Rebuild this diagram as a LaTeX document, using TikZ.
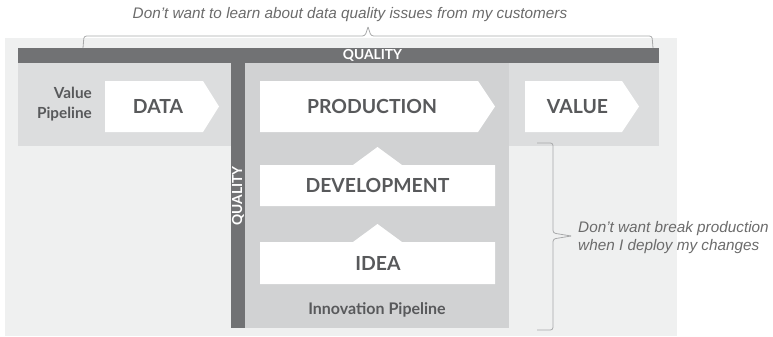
\documentclass[tikz,border=0pt]{standalone}
\usepackage{fontspec}
\setmainfont{Lato}
\newfontfamily\annfont{Liberation Sans}
\definecolor{panel}{HTML}{EFF0F0}
\definecolor{band}{HTML}{DCDDDE}
\definecolor{innov}{HTML}{D1D2D3}
\definecolor{bar}{HTML}{717274}
\definecolor{txt}{HTML}{58595B}
\definecolor{ann}{HTML}{6B6B6B}
\definecolor{brace}{HTML}{A8A9AA}
\tikzset{
  stage/.style={fill=white, draw=none},
  stagetxt/.style={font=\bfseries\fontsize{19.4}{23}\selectfont, text=txt, inner sep=0pt},
  smalltxt/.style={font=\bfseries\fontsize{16}{19}\selectfont, text=txt, inner sep=0pt},
  vptxt/.style={font=\bfseries\fontsize{15.3}{20}\selectfont, text=txt, inner sep=0pt},
  qualtxt/.style={font=\bfseries\fontsize{13.8}{16}\selectfont, text=white, inner sep=0pt},
  anntxt/.style={font=\annfont\itshape\fontsize{15.3}{18}\selectfont, text=ann, inner sep=0pt},
  bracepath/.style={draw=brace, line width=0.8pt, rounded corners=2.5pt},
}
\begin{document}
\begin{tikzpicture}[x=1pt,y=-1pt]
\useasboundingbox (0,0) rectangle (773,337);
% background panel
\fill[panel] (5,38) rectangle (677,336);
% value band
\fill[band] (18,63) rectangle (659,146);
% innovation region
\fill[innov] (245,63) rectangle (509,328);
% quality bars
\fill[bar] (18,48) rectangle (659,63);
\fill[bar] (231,63) rectangle (245,328);
\node[qualtxt] (qtop) at (372.5,55.5) {QUALITY};
\node[qualtxt, rotate=90] (qside) at (238,196) {QUALITY};
% value pipeline stages
\fill[stage] (105,81) -- (203,81) -- (219,106.5) -- (203,132) -- (105,132) -- cycle;
\node[stagetxt] (data) at (158,106.5) {DATA};
\fill[stage] (260,81) -- (478,81) -- (495,106.5) -- (478,132) -- (260,132) -- cycle;
\node[stagetxt] (prod) at (372,106.5) {PRODUCTION};
\fill[stage] (525,81) -- (622,81) -- (639,106.5) -- (622,132) -- (525,132) -- cycle;
\node[stagetxt] (value) at (577.5,106.5) {VALUE};
% innovation stages
\fill[stage] (260,165) -- (353,165) -- (377.5,147) -- (402,165) -- (495,165) -- (495,206) -- (260,206) -- cycle;
\node[stagetxt] (dev) at (377.5,185.5) {DEVELOPMENT};
\fill[stage] (260,242) -- (353,242) -- (377.5,224) -- (402,242) -- (495,242) -- (495,284) -- (260,284) -- cycle;
\node[stagetxt] (idea) at (378,263.5) {IDEA};
\node[smalltxt] (innovlbl) at (377,310) {Innovation Pipeline};
\node[vptxt, align=right, anchor=east] (vplbl) at (92,104) {Value\\Pipeline};
% top brace
\coordinate (tb1) at (83,48);
\coordinate (tb2) at (653,48);
\path[bracepath] (tb1) -- (84,36) -- (365,36) -- (368,27);
\path[bracepath] (368,27) -- (371,36) -- (652,36) -- (tb2);
\node[anntxt, anchor=base] (topann) at (350,19) {Don’t want to learn about data quality issues from my customers};
% right brace
\path[bracepath] (537,143) -- (553,143) -- (553,233) -- (571,236);
\path[bracepath] (571,236) -- (553,239) -- (553,330) -- (537,330);
\node[anntxt, anchor=west, align=left] (rightann) at (578,238) {Don’t want break production\\when I deploy my changes};
\end{tikzpicture}
\end{document}
